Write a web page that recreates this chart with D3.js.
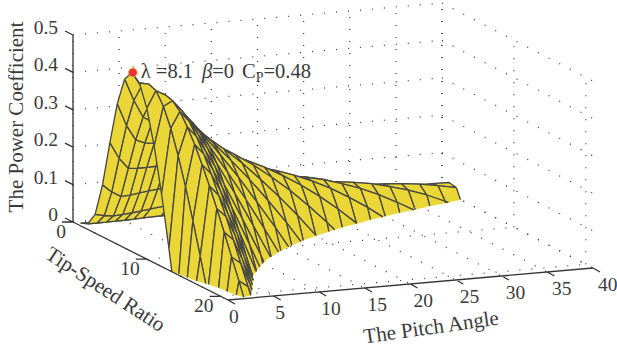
<!DOCTYPE html>
<html lang="en">
<head>
<meta charset="UTF-8">
<title>Power coefficient surface</title>
<script src="https://d3js.org/d3.v7.min.js"></script>
<style>
  body { margin: 0; background: #fff; }
  text { font-family: "Liberation Serif", serif; fill: #3a3a3a; }
  .tick-label { font-size: 19.5px; }
  .title { font-size: 21px; }
  .grid { fill: none; stroke: #333; stroke-width: 1.2; stroke-dasharray: 1 11; }
  .axis { fill: none; stroke: #333; stroke-width: 1.3; }
  .fill { fill: #ead637; stroke: #ead637; stroke-width: 0.4; }
  .mesh { fill: none; stroke: #444; stroke-width: 1.3; }
</style>
</head>
<body>
<div id="chart"></div>
<script>

var ratioValues = d3.range(1, 22);
var pitchValues = [0, 1, 2, 3, 4, 5, 6, 8, 10, 12, 14, 16, 18, 20, 22, 24, 26, 28, 30, 32, 34, 36, 38, 40];

// one list per pitch angle, tip-speed ratio 1, 2, 3 ...
// a list stops at the first value under the floor
var cpByPitch = [
  [.007, .015, .05, .139, .262, .376, .452, .479, .461, .403, .312, .194, .058, -.09],
  [.007, .015, .045, .118, .218, .316, .393, .439, .456, .448, .416, .367, .304, .231, .15, .065, -.024],
  [.007, .015, .042, .104, .189, .275, .346, .396, .425, .435, .429, .41, .379, .342, .298, .251, .2, .147, .091, .037, -.02],
  [.007, .016, .044, .105, .187, .265, .331, .375, .401, .408, .401, .382, .351, .314, .271, .224, .177, .125, .072, .019, -.033],
  [.007, .016, .046, .109, .187, .261, .321, .36, .379, .381, .369, .344, .31, .27, .224, .174, .124, .069, .015, -.041],
  [.007, .017, .049, .112, .188, .256, .311, .344, .357, .354, .336, .306, .268, .222, .172, .119, .065, .006, -.05],
  [.007, .018, .052, .115, .188, .254, .302, .327, .334, .324, .299, .264, .218, .168, .114, .057, -.002],
  [.007, .02, .058, .121, .189, .244, .28, .292, .285, .262, .225, .178, .121, .061, -.005],
  [.007, .023, .064, .126, .187, .231, .254, .253, .232, .197, .148, .088, .021, -.05],
  [.007, .026, .07, .129, .182, .215, .224, .211, .177, .127, .066, -.005],
  [.008, .03, .076, .13, .174, .195, .192, .163, .117, .055, -.019],
  [.009, .035, .08, .13, .163, .172, .155, .113, .054, -.021],
  [.01, .039, .083, .127, .149, .145, .115, .059, -.015],
  [.012, .043, .086, .121, .132, .115, .07, .001, -.07],
  [.014, .047, .087, .113, .112, .081, .022, -.06],
  [.017, .05, .085, .102, .088, .043, -.031],
  [.02, .053, .082, .087, .06, .001, -.06],
  [.022, .055, .076, .07, .029, -.044],
  [.026, .055, .068, .049, -.006],
  [.028, .053, .056, .024, -.045],
  [.03, .05, .042, -.003],
  [.031, .044, .025, -.034],
  [.031, .036, .004, -.05],
  [.03, .026, -.02]
];

var cpTicks = [0, 0.1, 0.2, 0.3, 0.4, 0.5];
var ratioTicks = [0, 10, 20];
var pitchTicks = [0, 5, 10, 15, 20, 25, 30, 35, 40];

var peak = { ratio: 8.1, pitch: 0, cp: 0.48 };

var width = 617, height = 347;

var pitchScale = d3.scaleLinear().domain([0, 40]).range([0, 1]);
var ratioScale = d3.scaleLinear().domain([0, 21]).range([0, 1]);
var cpScale = d3.scaleLinear().domain([0, 0.5]).range([0, -187]);

// floor corners in pixels, back edge is ratio 0, front edge is ratio 21
var backX = d3.scaleLinear().domain([0, 1]).range([73, 442]);
var frontX = d3.scaleLinear().domain([0, 1]).range([228, 593]);
var backY = d3.scaleLinear().domain([0, 1]).range([222, 190]);
var frontY = d3.scaleLinear().domain([0, 1]).range([300, 268]);

function project(pitch, ratio, cp) {
  var p = pitchScale(pitch), q = ratioScale(ratio);
  return [
    backX(p) + (frontX(p) - backX(p)) * q,
    backY(p) + (frontY(p) - backY(p)) * q + cpScale(cp)
  ];
}

var svg = d3.select("#chart").append("svg")
    .attr("width", width)
    .attr("height", height);

var line = d3.line();

function gridLine(a, b) {
  svg.append("path").attr("class", "grid").attr("d", line([project(a[0], a[1], a[2]), project(b[0], b[1], b[2])]));
}

// back wall, side wall and floor, dotted
cpTicks.forEach(function(c) {
  gridLine([0, 0, c], [40, 0, c]);
  gridLine([40, 0, c], [40, 21, c]);
});
pitchTicks.forEach(function(b) {
  gridLine([b, 0, 0], [b, 0, 0.5]);
  gridLine([b, 0, 0], [b, 21, 0]);
});
ratioTicks.forEach(function(l) {
  gridLine([40, l, 0], [40, l, 0.5]);
  gridLine([0, l, 0], [40, l, 0]);
});

function cpAt(i, j) {
  var v = cpByPitch[i][j];
  return v === undefined ? -0.1 : v;
}

function crossing(a, b) {
  var t = a[2] / (a[2] - b[2]);
  return [a[0] + (b[0] - a[0]) * t, a[1] + (b[1] - a[1]) * t, 0];
}

// part of a cell above the floor, and the mesh edges that are left
function clipCell(corners) {
  var poly = [], segs = [];
  corners.forEach(function(a, k) {
    var b = corners[(k + 1) % 4];
    if (a[2] >= 0) poly.push(a);
    if ((a[2] >= 0) !== (b[2] >= 0)) {
      var m = crossing(a, b);
      poly.push(m);
      segs.push(a[2] >= 0 ? [a, m] : [m, b]);
    } else if (a[2] >= 0) {
      segs.push([a, b]);
    }
  });
  return { poly: poly, segs: segs };
}

// far cells first: high pitch and low ratio are at the back
var cells = [];
for (var i = pitchValues.length - 2; i >= 0; i--) {
  for (var j = 0; j < ratioValues.length - 1; j++) {
    var cell = clipCell([
      [pitchValues[i], ratioValues[j], cpAt(i, j)],
      [pitchValues[i + 1], ratioValues[j], cpAt(i + 1, j)],
      [pitchValues[i + 1], ratioValues[j + 1], cpAt(i + 1, j + 1)],
      [pitchValues[i], ratioValues[j + 1], cpAt(i, j + 1)]
    ]);
    if (cell.poly.length) cells.push(cell);
  }
}

function toPixels(d) { return project(d[0], d[1], d[2]); }

var cellGroups = svg.append("g").selectAll("g")
    .data(cells)
  .join("g");

cellGroups.append("path")
    .attr("class", "fill")
    .attr("d", function(d) { return line(d.poly.map(toPixels)) + "Z"; });

cellGroups.append("path")
    .attr("class", "mesh")
    .attr("d", function(d) {
      return d.segs.map(function(s) { return line(s.map(toPixels)); }).join("");
    });

// axes
var axisPath = d3.path();
function axisLine(a, b) {
  axisPath.moveTo(a[0], a[1]);
  axisPath.lineTo(b[0], b[1]);
}

axisLine(project(0, 0, 0), project(0, 0, 0.5));
axisLine(project(0, 0, 0), project(0, 21, 0));
axisLine(project(0, 21, 0), project(40, 21, 0));

cpTicks.forEach(function(c) {
  var p = project(0, 0, c);
  axisLine(p, [p[0] - 8, p[1] - 4]);
  svg.append("text").attr("class", "tick-label")
      .attr("text-anchor", "end")
      .attr("x", p[0] - 15)
      .attr("y", p[1] - 1)
      .text(c);
});

ratioTicks.forEach(function(l) {
  var p = project(0, l, 0);
  axisLine(p, [p[0] - 11, p[1]]);
  svg.append("text").attr("class", "tick-label")
      .attr("text-anchor", "end")
      .attr("x", p[0] - 7)
      .attr("y", p[1] + 16)
      .text(l);
});

pitchTicks.forEach(function(b) {
  var p = project(b, 21, 0);
  axisLine(p, [p[0] + 7, p[1] + 4]);
  svg.append("text").attr("class", "tick-label")
      .attr("x", p[0] + 1 + b / 10)
      .attr("y", p[1] + 23)
      .text(b);
});

svg.append("path").attr("class", "axis").attr("d", axisPath.toString());

// titles
svg.append("text").attr("class", "title")
    .attr("text-anchor", "middle")
    .attr("transform", "translate(23,117) rotate(-90)")
    .text("The Power Coefficient");

svg.append("text").attr("class", "title")
    .attr("text-anchor", "middle")
    .attr("transform", "translate(102,295) rotate(33)")
    .text("Tip-Speed Ratio");

svg.append("text").attr("class", "title")
    .attr("text-anchor", "middle")
    .attr("transform", "translate(432,334) rotate(-8)")
    .text("The Pitch Angle");

// the peak and its note
var peakPoint = project(peak.pitch, peak.ratio, peak.cp);

svg.append("circle")
    .attr("cx", peakPoint[0])
    .attr("cy", peakPoint[1])
    .attr("r", 4.5)
    .attr("fill", "#ea3038")
    .attr("stroke", "#ead637")
    .attr("stroke-width", 0.8);

var note = svg.append("text")
    .attr("x", peakPoint[0] + 8)
    .attr("y", peakPoint[1] + 5)
    .style("font-size", "20.5px");

note.append("tspan").text("\u03bb =" + peak.ratio);
note.append("tspan").attr("dx", 9).style("font-style", "italic").text("\u03b2");
note.append("tspan").text("=" + peak.pitch);
note.append("tspan").attr("dx", 8).text("C");
note.append("tspan").attr("dy", 4).style("font-size", "14px").text("P");
note.append("tspan").attr("dy", -4).text("=" + peak.cp);

</script>
</body>
</html>
